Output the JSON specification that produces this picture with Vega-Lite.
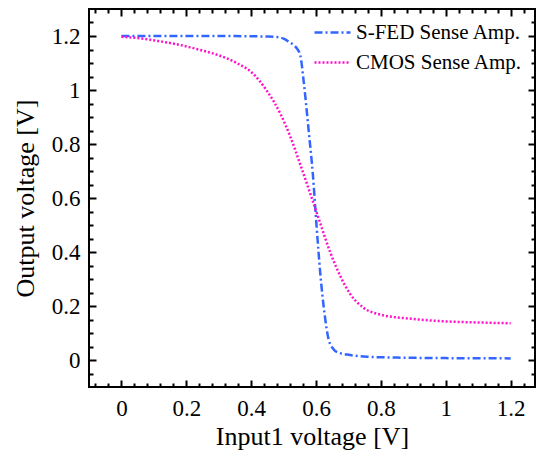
{
  "$schema": "https://vega.github.io/schema/vega-lite/v6.json",
  "width": 446,
  "height": 378,
  "autosize": {"type": "none"},
  "padding": {"left": 89, "top": 9, "right": 3, "bottom": 71},
  "config": {
    "view": {"stroke": "black", "strokeWidth": 2},
    "font": "Liberation Serif",
    "axis": {"grid": false, "labelFont": "Liberation Serif", "titleFont": "Liberation Serif", "labelColor": "black", "titleColor": "black", "titleFontWeight": "normal", "tickColor": "black", "domain": false}
  },
  "data": {
    "values": [
      {"s": "S-FED Sense Amp.", "x": 0, "y": 1.2},
      {"s": "S-FED Sense Amp.", "x": 0.1, "y": 1.2},
      {"s": "S-FED Sense Amp.", "x": 0.2, "y": 1.2},
      {"s": "S-FED Sense Amp.", "x": 0.3, "y": 1.2},
      {"s": "S-FED Sense Amp.", "x": 0.4, "y": 1.199},
      {"s": "S-FED Sense Amp.", "x": 0.45, "y": 1.198},
      {"s": "S-FED Sense Amp.", "x": 0.48, "y": 1.196},
      {"s": "S-FED Sense Amp.", "x": 0.5, "y": 1.19},
      {"s": "S-FED Sense Amp.", "x": 0.511, "y": 1.183},
      {"s": "S-FED Sense Amp.", "x": 0.525, "y": 1.172},
      {"s": "S-FED Sense Amp.", "x": 0.535, "y": 1.163},
      {"s": "S-FED Sense Amp.", "x": 0.542, "y": 1.152},
      {"s": "S-FED Sense Amp.", "x": 0.552, "y": 1.125},
      {"s": "S-FED Sense Amp.", "x": 0.562, "y": 1.03},
      {"s": "S-FED Sense Amp.", "x": 0.578, "y": 0.84},
      {"s": "S-FED Sense Amp.", "x": 0.59, "y": 0.69},
      {"s": "S-FED Sense Amp.", "x": 0.601, "y": 0.506},
      {"s": "S-FED Sense Amp.", "x": 0.613, "y": 0.321},
      {"s": "S-FED Sense Amp.", "x": 0.626, "y": 0.173},
      {"s": "S-FED Sense Amp.", "x": 0.639, "y": 0.075},
      {"s": "S-FED Sense Amp.", "x": 0.654, "y": 0.04},
      {"s": "S-FED Sense Amp.", "x": 0.67, "y": 0.027},
      {"s": "S-FED Sense Amp.", "x": 0.705, "y": 0.0185},
      {"s": "S-FED Sense Amp.", "x": 0.757, "y": 0.012},
      {"s": "S-FED Sense Amp.", "x": 0.85, "y": 0.009},
      {"s": "S-FED Sense Amp.", "x": 1.0, "y": 0.007},
      {"s": "S-FED Sense Amp.", "x": 1.2, "y": 0.006},
      {"s": "CMOS Sense Amp.", "x": 0, "y": 1.197},
      {"s": "CMOS Sense Amp.", "x": 0.06, "y": 1.191},
      {"s": "CMOS Sense Amp.", "x": 0.12, "y": 1.18},
      {"s": "CMOS Sense Amp.", "x": 0.18, "y": 1.167},
      {"s": "CMOS Sense Amp.", "x": 0.244, "y": 1.148},
      {"s": "CMOS Sense Amp.", "x": 0.306, "y": 1.126},
      {"s": "CMOS Sense Amp.", "x": 0.357, "y": 1.099},
      {"s": "CMOS Sense Amp.", "x": 0.408, "y": 1.058},
      {"s": "CMOS Sense Amp.", "x": 0.449, "y": 0.996},
      {"s": "CMOS Sense Amp.", "x": 0.49, "y": 0.912},
      {"s": "CMOS Sense Amp.", "x": 0.521, "y": 0.826},
      {"s": "CMOS Sense Amp.", "x": 0.552, "y": 0.722},
      {"s": "CMOS Sense Amp.", "x": 0.582, "y": 0.617},
      {"s": "CMOS Sense Amp.", "x": 0.613, "y": 0.506},
      {"s": "CMOS Sense Amp.", "x": 0.644, "y": 0.398},
      {"s": "CMOS Sense Amp.", "x": 0.675, "y": 0.31},
      {"s": "CMOS Sense Amp.", "x": 0.705, "y": 0.245},
      {"s": "CMOS Sense Amp.", "x": 0.747, "y": 0.193},
      {"s": "CMOS Sense Amp.", "x": 0.798, "y": 0.168},
      {"s": "CMOS Sense Amp.", "x": 0.9, "y": 0.152},
      {"s": "CMOS Sense Amp.", "x": 1.0, "y": 0.143},
      {"s": "CMOS Sense Amp.", "x": 1.1, "y": 0.139},
      {"s": "CMOS Sense Amp.", "x": 1.2, "y": 0.136}
    ]
  },
  "layer": [
    {
      "mark": {"type": "line", "strokeWidth": 2.5, "interpolate": "monotone"},
      "encoding": {
        "x": {"field": "x", "type": "quantitative", "scale": {"domain": [-0.1, 1.275], "nice": false, "zero": false},
          "axis": {"orient": "bottom", "values": [0, 0.2, 0.4, 0.6, 0.8, 1, 1.2], "format": "~g", "ticks": false, "labelFont": "Liberation Serif", "labelFontSize": 23, "labelPadding": 10, "title": "Input1 voltage [V]", "titleFont": "Liberation Serif", "titleFontSize": 26, "titlePadding": 3, "labelFlush": false}},
        "y": {"field": "y", "type": "quantitative", "scale": {"domain": [-0.1, 1.3], "nice": false, "zero": false},
          "axis": {"orient": "left", "values": [0, 0.2, 0.4, 0.6, 0.8, 1, 1.2], "format": "~g", "ticks": false, "labelFont": "Liberation Serif", "labelFontSize": 23, "labelPadding": 9, "title": "Output voltage [V]", "titleFont": "Liberation Serif", "titleFontSize": 26, "titlePadding": 13, "labelFlush": false}},
        "color": {"field": "s", "type": "nominal", "scale": {"domain": ["S-FED Sense Amp.", "CMOS Sense Amp."], "range": ["#3366ff", "#ff11cc"]},
          "legend": {"title": null, "orient": "none", "legendX": 224, "legendY": 4, "symbolType": "stroke", "symbolSize": 1296, "symbolStrokeWidth": 2.5, "labelFont": "Liberation Serif", "labelFontSize": 21, "labelLimit": 400, "labelColor": "black", "rowPadding": -1.5, "labelOffset": 4, "padding": 0}},
        "strokeDash": {"field": "s", "type": "nominal", "scale": {"domain": ["S-FED Sense Amp.", "CMOS Sense Amp."], "range": [[8, 3, 2, 3], [2, 2]]},
          "legend": {"title": null, "orient": "none", "legendX": 224, "legendY": 4, "symbolType": "stroke", "symbolSize": 1296, "symbolStrokeWidth": 2.5, "labelFont": "Liberation Serif", "labelFontSize": 21, "labelLimit": 400, "labelColor": "black", "rowPadding": -1.5, "labelOffset": 4, "padding": 0}}
      }
    },
    {
      "mark": {"type": "point", "opacity": 0},
      "encoding": {
        "x": {"field": "x", "type": "quantitative", "scale": {"domain": [-0.1, 1.275], "nice": false, "zero": false},
          "axis": {"orient": "bottom", "values": [0, 0.2, 0.4, 0.6, 0.8, 1, 1.2], "tickSize": -7, "tickWidth": 2, "labels": false, "title": null}},
        "y": {"field": "y", "type": "quantitative", "scale": {"domain": [-0.1, 1.3], "nice": false, "zero": false},
          "axis": {"orient": "left", "values": [0, 0.2, 0.4, 0.6, 0.8, 1, 1.2], "tickSize": -7, "tickWidth": 2, "labels": false, "title": null}}
      }
    },
    {
      "mark": {"type": "point", "opacity": 0},
      "encoding": {
        "x": {"field": "x", "type": "quantitative", "scale": {"domain": [-0.1, 1.275], "nice": false, "zero": false},
          "axis": {"orient": "bottom", "values": [-0.08, -0.04, 0.04, 0.08, 0.12, 0.16, 0.24, 0.28, 0.32, 0.36, 0.44, 0.48, 0.52, 0.56, 0.64, 0.68, 0.72, 0.76, 0.84, 0.88, 0.92, 0.96, 1.04, 1.08, 1.12, 1.16, 1.24], "tickSize": -4, "tickWidth": 2, "labels": false, "title": null}},
        "y": {"field": "y", "type": "quantitative", "scale": {"domain": [-0.1, 1.3], "nice": false, "zero": false},
          "axis": {"orient": "left", "values": [-0.05, 0.05, 0.1, 0.15, 0.25, 0.3, 0.35, 0.45, 0.5, 0.55, 0.65, 0.7, 0.75, 0.85, 0.9, 0.95, 1.05, 1.1, 1.15, 1.25], "tickSize": -4, "tickWidth": 2, "labels": false, "title": null}}
      }
    },
    {
      "mark": {"type": "point", "opacity": 0},
      "encoding": {
        "x": {"field": "x", "type": "quantitative", "scale": {"domain": [-0.1, 1.275], "nice": false, "zero": false},
          "axis": {"orient": "top", "values": [0, 0.2, 0.4, 0.6, 0.8, 1, 1.2], "tickSize": -7, "tickWidth": 2, "labels": false, "title": null}},
        "y": {"field": "y", "type": "quantitative", "scale": {"domain": [-0.1, 1.3], "nice": false, "zero": false},
          "axis": {"orient": "right", "values": [0, 0.2, 0.4, 0.6, 0.8, 1, 1.2], "tickSize": -7, "tickWidth": 2, "labels": false, "title": null}}
      }
    },
    {
      "mark": {"type": "point", "opacity": 0},
      "encoding": {
        "x": {"field": "x", "type": "quantitative", "scale": {"domain": [-0.1, 1.275], "nice": false, "zero": false},
          "axis": {"orient": "top", "values": [-0.08, -0.04, 0.04, 0.08, 0.12, 0.16, 0.24, 0.28, 0.32, 0.36, 0.44, 0.48, 0.52, 0.56, 0.64, 0.68, 0.72, 0.76, 0.84, 0.88, 0.92, 0.96, 1.04, 1.08, 1.12, 1.16, 1.24], "tickSize": -4, "tickWidth": 2, "labels": false, "title": null}},
        "y": {"field": "y", "type": "quantitative", "scale": {"domain": [-0.1, 1.3], "nice": false, "zero": false},
          "axis": {"orient": "right", "values": [-0.05, 0.05, 0.1, 0.15, 0.25, 0.3, 0.35, 0.45, 0.5, 0.55, 0.65, 0.7, 0.75, 0.85, 0.9, 0.95, 1.05, 1.1, 1.15, 1.25], "tickSize": -4, "tickWidth": 2, "labels": false, "title": null}}
      }
    }
  ],
  "resolve": {"axis": {"x": "independent", "y": "independent"}}
}
